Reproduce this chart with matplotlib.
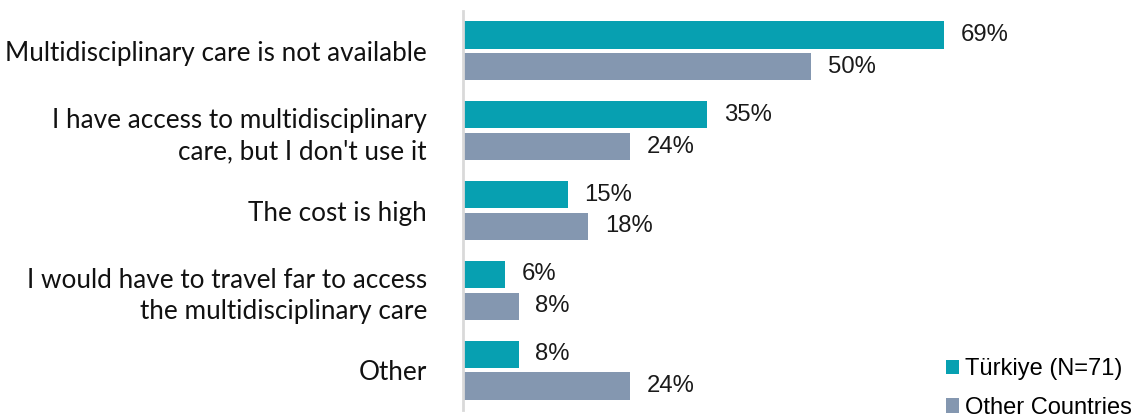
import matplotlib.pyplot as plt
import numpy as np

categories = [
    "Multidisciplinary care is not available",
    "I have access to multidisciplinary\ncare, but I don't use it",
    "The cost is high",
    "I would have to travel far to access\nthe multidisciplinary care",
    "Other",
]
turkiye = [69, 35, 15, 6, 8]
other_countries = [50, 24, 18, 8, 24]
series_names = ["Türkiye (N=71)", "Other Countries"]

TEAL = "#07a0b1"
GREY = "#8497b0"

fig = plt.figure(figsize=(11.37, 4.17), dpi=100)
ax = fig.add_axes([463 / 1137, 7 / 417, (1132 - 463) / 1137, (406 - 7) / 417])

y = np.arange(len(categories))
h = 0.34
off = 0.2
b1 = ax.barh(y - off, turkiye, height=h, color=TEAL, label=series_names[0])
b2 = ax.barh(y + off, other_countries, height=h, color=GREY, label=series_names[1])

for bars, vals in ((b1, turkiye), (b2, other_countries)):
    for bar, v in zip(bars, vals):
        ax.annotate(f"{v}%", (bar.get_width(), bar.get_y() + bar.get_height() / 2),
                    xytext=(12, 0), textcoords="offset points", va="center", ha="left",
                    fontsize=17.2, family="Liberation Sans", color="#1a1a1a")

ax.set_xlim(0, 96)
ax.set_ylim(len(categories) - 0.5, -0.5)
ax.set_xticks([])
ax.set_yticks(y)
ax.set_yticklabels(categories, fontsize=18.8, family="Lato", color="#111111",
                   linespacing=1.33)
ax.tick_params(axis="y", length=0, pad=26)
for s in ("top", "right", "bottom"):
    ax.spines[s].set_visible(False)
ax.spines["left"].set_color("#d9d9d9")
ax.spines["left"].set_linewidth(2)

# bottom entry is clipped by the figure edge, as in the original export
leg = fig.legend(handles=[b1, b2], loc="lower left", bbox_to_anchor=(925 / 1137, -23 / 417),
                 frameon=False, prop={"family": "Liberation Sans", "size": 17},
                 handlelength=0.55, handleheight=0.55, handletextpad=0.25, labelspacing=0.7)

fig.savefig("out.png", dpi=100)
